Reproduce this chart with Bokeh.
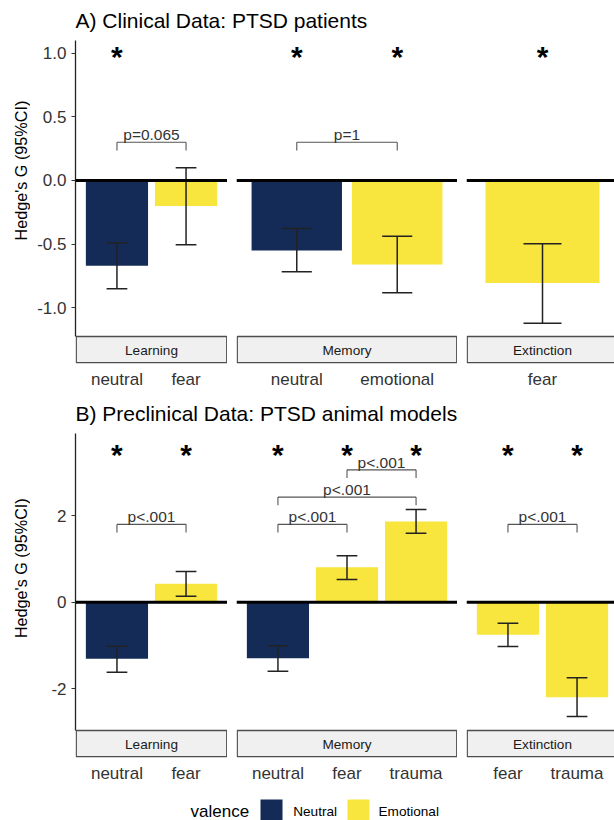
import math
from bokeh.plotting import figure
from bokeh.models import Range1d, FixedTicker, Span, ColumnDataSource, Label
from bokeh.layouts import column, row
from bokeh.embed import file_html
from bokeh.resources import INLINE
from bokeh.core.properties import value

# ------------------------------------------------------------------ data
VALENCE = ["Neutral", "Emotional"]
VALENCE_COLORS = ["#152B57", "#F8E53D"]

# A) Clinical data
A_LEARNING_CATS = ["neutral", "fear"]
A_LEARNING_G = [-0.67, -0.20]
A_LEARNING_LO = [-0.85, -0.505]
A_LEARNING_HI = [-0.49, 0.10]
A_LEARNING_SIG = [True, False]
A_LEARNING_CMP = [("neutral", "fear", "p=0.065")]

A_MEMORY_CATS = ["neutral", "emotional"]
A_MEMORY_G = [-0.55, -0.66]
A_MEMORY_LO = [-0.717, -0.882]
A_MEMORY_HI = [-0.377, -0.4375]
A_MEMORY_SIG = [True, True]
A_MEMORY_CMP = [("neutral", "emotional", "p=1")]

A_EXT_CATS = ["fear"]
A_EXT_G = [-0.806]
A_EXT_LO = [-1.121]
A_EXT_HI = [-0.497]
A_EXT_SIG = [True]
A_EXT_CMP = []

# B) Preclinical data
B_LEARNING_CATS = ["neutral", "fear"]
B_LEARNING_G = [-1.31, 0.425]
B_LEARNING_LO = [-1.618, 0.139]
B_LEARNING_HI = [-1.017, 0.71]
B_LEARNING_SIG = [True, True]
B_LEARNING_CMP = [("neutral", "fear", "p<.001")]

B_MEMORY_CATS = ["neutral", "fear", "trauma"]
B_MEMORY_G = [-1.295, 0.81, 1.866]
B_MEMORY_LO = [-1.595, 0.525, 1.595]
B_MEMORY_HI = [-1.008, 1.073, 2.143]
B_MEMORY_SIG = [True, True, True]
B_MEMORY_CMP = [("neutral", "fear", "p<.001"),
                ("neutral", "trauma", "p<.001"),
                ("fear", "trauma", "p<.001")]

B_EXT_CATS = ["fear", "trauma"]
B_EXT_G = [-0.754, -2.197]
B_EXT_LO = [-1.024, -2.643]
B_EXT_HI = [-0.486, -1.748]
B_EXT_SIG = [True, True]
B_EXT_CMP = [("fear", "trauma", "p<.001")]

A_TICKS = [-1.0, -0.5, 0.0, 0.5, 1.0]
A_TICK_LABELS = ["-1.0", "-0.5", "0.0", "0.5", "1.0"]
B_TICKS = [-2, 0, 2]
B_TICK_LABELS = ["-2", "0", "2"]

FACETS = ["Learning", "Memory", "Extinction"]
Y_TITLE = "Hedge's G (95%CI)"

# ------------------------------------------------------------------ style
FONT = "Liberation Sans"
INK = "#333333"
STRIP_H = 27
TOTAL_W = 614
YLAB_W = 30

ROW_A = dict(top=1.0998, lo=-1.2255, frame_h=323, bottom=32, ticks=A_TICKS,
             labels=A_TICK_LABELS, star_y=0.974, levels=[0.30], tip=0.065,
             ylab_mid=143)
ROW_B = dict(top=3.90, lo=-2.966, frame_h=324, bottom=32, ticks=B_TICKS,
             labels=B_TICK_LABELS, star_y=3.416, levels=[1.80, 2.43, 3.06], tip=0.19,
             ylab_mid=148)

NOMINAL_W = [152, 221, 152]
FRAME_W = [152, 221, 148]
LEFT_BORDER = 75
GAP = 9


def make_panel(cats, g, lo, hi, sig, cmps, strip, idx, rw):
    n = len(cats)
    xs = list(range(1, n + 1))
    pos = dict(zip(cats, xs))
    x_end = 0.4 + (n + 0.2) * FRAME_W[idx] / NOMINAL_W[idx]
    ytop, ylo, fh = rw["top"], rw["lo"], rw["frame_h"]
    ppu = (fh - STRIP_H) / (ytop - ylo)
    y_start = ylo - STRIP_H / ppu
    ppx = FRAME_W[idx] / (x_end - 0.4)
    first = idx == 0

    p = figure(frame_width=FRAME_W[idx], frame_height=fh,
               x_range=Range1d(0.4, x_end), y_range=Range1d(y_start, ytop),
               output_backend="svg", toolbar_location=None,
               y_axis_location="left" if first else None,
               min_border_left=(LEFT_BORDER - YLAB_W) if first else GAP,
               min_border_right=0, min_border_top=0, min_border_bottom=rw["bottom"],
               outline_line_color=None, background_fill_color="white",
               border_fill_color="white")
    p.xgrid.visible = False
    p.ygrid.visible = False

    # facet strip
    p.quad(left=[0.4 + 0.75 / ppx], right=[0.4 + n + 0.2 - 0.75 / ppx],
           top=[ylo], bottom=[y_start + 0.75 / ppu],
           fill_color="#F0F0F0", line_color="#4D4D4D", line_width=1.3)
    p.text(x=[(n + 1) / 2], y=[(ylo + y_start) / 2], text=[strip],
           text_align="center", text_baseline="middle",
           text_font=value(FONT), text_font_size="13.6px", text_color="#1A1A1A")

    colors = [VALENCE_COLORS[0] if c == "neutral" else VALENCE_COLORS[1] for c in cats]
    src = ColumnDataSource(dict(x=xs, g=g, lo=lo, hi=hi, color=colors,
                                xl=[x - 0.15 for x in xs], xr=[x + 0.15 for x in xs]))
    p.vbar(x="x", top="g", bottom=0, width=0.9, fill_color="color",
           line_color=None, source=src)
    p.add_layout(Span(location=0, dimension="width", line_color="black", line_width=3))
    ek = dict(line_color="#222222", line_width=1.5, source=src)
    p.segment(x0="x", y0="lo", x1="x", y1="hi", **ek)
    p.segment(x0="xl", y0="lo", x1="xr", y1="lo", **ek)
    p.segment(x0="xl", y0="hi", x1="xr", y1="hi", **ek)

    sx = [x for x, s in zip(xs, sig) if s]
    p.text(x=sx, y=[rw["star_y"]] * len(sx), text=["*"] * len(sx),
           text_align="center", text_baseline="middle", text_font=value(FONT),
           text_font_size="30px", text_font_style="bold", text_color="black")

    for level, (c1, c2, lab) in enumerate(cmps):
        x1, x2 = pos[c1], pos[c2]
        yb = rw["levels"][level]
        p.segment(x0=[x1, x1, x2], y0=[yb, yb, yb], x1=[x2, x1, x2],
                  y1=[yb, yb - rw["tip"], yb - rw["tip"]],
                  line_color="#555555", line_width=1.1)
        p.text(x=[(x1 + x2) / 2], y=[yb], text=[lab], text_align="center",
               text_baseline="middle", y_offset=-7.5, text_font=value(FONT),
               text_font_size="15.5px", text_color=INK)

    xa = p.xaxis[0]
    xa.ticker = FixedTicker(ticks=xs)
    xa.major_label_overrides = {x: c for x, c in zip(xs, cats)}
    xa.axis_line_color = None
    xa.major_tick_line_color = None
    xa.minor_tick_line_color = None
    xa.major_tick_out = 0
    xa.major_tick_in = 0
    xa.minor_tick_out = 0
    xa.major_label_standoff = 6
    xa.major_label_text_font = FONT
    xa.major_label_text_font_size = "17px"
    xa.major_label_text_color = INK

    if first:
        ya = p.yaxis[0]
        ya.ticker = FixedTicker(ticks=rw["ticks"])
        ya.major_label_overrides = {t: l for t, l in zip(rw["ticks"], rw["labels"])}
        ya.bounds = (ylo, ytop)
        ya.axis_line_color = "#222222"
        ya.axis_line_width = 1.3
        ya.major_tick_line_color = "#333333"
        ya.major_tick_out = 4
        ya.major_tick_in = 0
        ya.minor_tick_line_color = None
        ya.major_label_standoff = 5
        ya.major_label_text_font = FONT
        ya.major_label_text_font_size = "17px"
        ya.major_label_text_color = INK
    return p


def blank_fig(w, h):
    p = figure(width=w, height=h, x_range=Range1d(0, w), y_range=Range1d(h, 0),
               output_backend="svg", toolbar_location=None, x_axis_location=None,
               y_axis_location=None, min_border=0, outline_line_color=None)
    p.grid.visible = False
    return p


def text_fig(h, text, mid_y):
    p = blank_fig(TOTAL_W, h)
    p.add_layout(Label(x=LEFT_BORDER, y=mid_y, text=text, text_font=FONT,
                       text_font_size="21px", text_baseline="middle",
                       text_color="black"))
    return p


def ylabel_fig(rw):
    p = blank_fig(YLAB_W, rw["frame_h"] + rw["bottom"])
    p.add_layout(Label(x=20, y=rw["ylab_mid"], text=Y_TITLE, angle=math.pi / 2,
                       text_align="center", text_baseline="middle", text_font=FONT,
                       text_font_size="16.2px", text_color="black"))
    return p


title_a = text_fig(40, "A) Clinical Data: PTSD patients", 19.5)
row_a = row(
    ylabel_fig(ROW_A),
    make_panel(A_LEARNING_CATS, A_LEARNING_G, A_LEARNING_LO, A_LEARNING_HI, A_LEARNING_SIG, A_LEARNING_CMP, FACETS[0], 0, ROW_A),
    make_panel(A_MEMORY_CATS, A_MEMORY_G, A_MEMORY_LO, A_MEMORY_HI, A_MEMORY_SIG, A_MEMORY_CMP, FACETS[1], 1, ROW_A),
    make_panel(A_EXT_CATS, A_EXT_G, A_EXT_LO, A_EXT_HI, A_EXT_SIG, A_EXT_CMP, FACETS[2], 2, ROW_A),
)
title_b = text_fig(38, "B) Preclinical Data: PTSD animal models", 17.5)
row_b = row(
    ylabel_fig(ROW_B),
    make_panel(B_LEARNING_CATS, B_LEARNING_G, B_LEARNING_LO, B_LEARNING_HI, B_LEARNING_SIG, B_LEARNING_CMP, FACETS[0], 0, ROW_B),
    make_panel(B_MEMORY_CATS, B_MEMORY_G, B_MEMORY_LO, B_MEMORY_HI, B_MEMORY_SIG, B_MEMORY_CMP, FACETS[1], 1, ROW_B),
    make_panel(B_EXT_CATS, B_EXT_G, B_EXT_LO, B_EXT_HI, B_EXT_SIG, B_EXT_CMP, FACETS[2], 2, ROW_B),
)

# legend
LEG_H = 31
leg = blank_fig(TOTAL_W, LEG_H)
leg.text(x=[190], y=[22], text=["valence"], text_baseline="middle",
         text_font=value(FONT), text_font_size="17px", text_color="black")
leg.rect(x=[271, 358], y=[20.5, 20.5], width=22, height=21, fill_color=VALENCE_COLORS,
         line_color=None)
leg.text(x=[292.7, 378], y=[22, 22], text=VALENCE, text_baseline="middle",
         text_font=value(FONT), text_font_size="13.6px", text_color="black")

layout = column(title_a, row_a, title_b, row_b, leg)
open("out.html", "w").write(file_html(layout, INLINE))
